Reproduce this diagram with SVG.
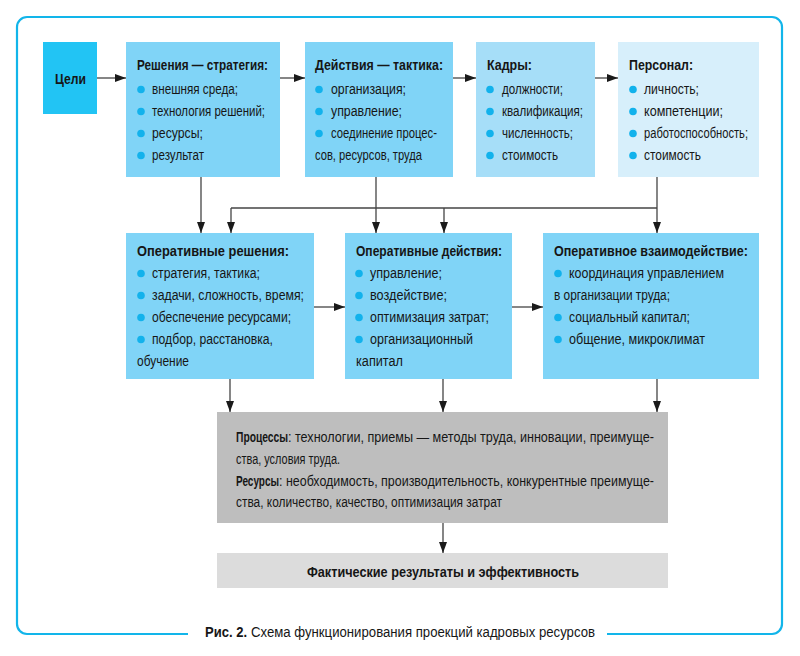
<svg xmlns="http://www.w3.org/2000/svg" width="800" height="656" viewBox="0 0 800 656">
<defs>
<style>
.t{font-family:"Liberation Sans",Arial,sans-serif;font-size:15.5px;fill:#161616}
.b{font-weight:bold}
.dot{fill:#12b2ec}
.ln{stroke:#444;stroke-width:1.3;fill:none}
.ar{stroke:#444;stroke-width:1.3;fill:none;marker-end:url(#ah)}
.main{fill:#80d4f7}
</style>
<marker id="ah" markerWidth="11" markerHeight="8" refX="11" refY="4" orient="auto" markerUnits="userSpaceOnUse">
<path d="M0,0 L11,4 L0,8 Z" fill="#1a1a1a"/>
</marker>
</defs>
<rect width="800" height="656" fill="#fff"/>
<path d="M188,634 H27 A10,10 0 0 1 17,624 V27 A10,10 0 0 1 27,17 H772 A10,10 0 0 1 782,27 V624 A10,10 0 0 1 772,634 H607" fill="none" stroke="#12b5ea" stroke-width="2.2"/>

<g id="goals">
<rect x="43" y="42" width="54" height="72" fill="#22c4f4"/>
<text class="t b" x="55" y="84" textLength="31" lengthAdjust="spacingAndGlyphs">Цели</text>
</g>

<g id="decisions">
<rect class="main" x="126" y="42" width="154" height="135"/>
<text class="t b" x="137" y="70" textLength="131" lengthAdjust="spacingAndGlyphs">Решения — стратегия:</text>
<circle class="dot" cx="141" cy="89.5" r="3.8"/><text class="t" x="152" y="94" textLength="86" lengthAdjust="spacingAndGlyphs">внешняя среда;</text>
<circle class="dot" cx="141" cy="111.5" r="3.8"/><text class="t" x="152" y="116" textLength="113" lengthAdjust="spacingAndGlyphs">технология решений;</text>
<circle class="dot" cx="141" cy="133.5" r="3.8"/><text class="t" x="152" y="138" textLength="51" lengthAdjust="spacingAndGlyphs">ресурсы;</text>
<circle class="dot" cx="141" cy="155.5" r="3.8"/><text class="t" x="152" y="160" textLength="52" lengthAdjust="spacingAndGlyphs">результат</text>
</g>

<g id="actions">
<rect class="main" x="305" y="42" width="148" height="135"/>
<text class="t b" x="315" y="70" textLength="128" lengthAdjust="spacingAndGlyphs">Действия — тактика:</text>
<circle class="dot" cx="319" cy="89.5" r="3.8"/><text class="t" x="331" y="94" textLength="75" lengthAdjust="spacingAndGlyphs">организация;</text>
<circle class="dot" cx="319" cy="111.5" r="3.8"/><text class="t" x="331" y="116" textLength="71" lengthAdjust="spacingAndGlyphs">управление;</text>
<circle class="dot" cx="319" cy="133.5" r="3.8"/><text class="t" x="331" y="138" textLength="106" lengthAdjust="spacingAndGlyphs">соединение процес-</text>
<text class="t" x="315" y="160" textLength="107" lengthAdjust="spacingAndGlyphs">сов, ресурсов, труда</text>
</g>

<g id="cadres">
<rect x="476" y="42" width="119" height="135" fill="#a6def8"/>
<text class="t b" x="487" y="70" textLength="45" lengthAdjust="spacingAndGlyphs">Кадры:</text>
<circle class="dot" cx="490" cy="89.5" r="3.8"/><text class="t" x="502" y="94" textLength="61" lengthAdjust="spacingAndGlyphs">должности;</text>
<circle class="dot" cx="490" cy="111.5" r="3.8"/><text class="t" x="502" y="116" textLength="81" lengthAdjust="spacingAndGlyphs">квалификация;</text>
<circle class="dot" cx="490" cy="133.5" r="3.8"/><text class="t" x="502" y="138" textLength="71" lengthAdjust="spacingAndGlyphs">численность;</text>
<circle class="dot" cx="490" cy="155.5" r="3.8"/><text class="t" x="502" y="160" textLength="56" lengthAdjust="spacingAndGlyphs">стоимость</text>
</g>

<g id="personnel">
<rect x="618" y="42" width="141" height="135" fill="#d7effb"/>
<text class="t b" x="629" y="70" textLength="64" lengthAdjust="spacingAndGlyphs">Персонал:</text>
<circle class="dot" cx="633" cy="89.5" r="3.8"/><text class="t" x="644" y="94" textLength="55" lengthAdjust="spacingAndGlyphs">личность;</text>
<circle class="dot" cx="633" cy="111.5" r="3.8"/><text class="t" x="644" y="116" textLength="79" lengthAdjust="spacingAndGlyphs">компетенции;</text>
<circle class="dot" cx="633" cy="133.5" r="3.8"/><text class="t" x="644" y="138" textLength="104" lengthAdjust="spacingAndGlyphs">работоспособность;</text>
<circle class="dot" cx="633" cy="155.5" r="3.8"/><text class="t" x="644" y="160" textLength="57" lengthAdjust="spacingAndGlyphs">стоимость</text>
</g>

<g id="op-decisions">
<rect class="main" x="126" y="233" width="188" height="146"/>
<text class="t b" x="137" y="256" textLength="152" lengthAdjust="spacingAndGlyphs">Оперативные решения:</text>
<circle class="dot" cx="141" cy="273.5" r="3.8"/><text class="t" x="152" y="278" textLength="108" lengthAdjust="spacingAndGlyphs">стратегия, тактика;</text>
<circle class="dot" cx="141" cy="295.5" r="3.8"/><text class="t" x="152" y="300" textLength="152" lengthAdjust="spacingAndGlyphs">задачи, сложность, время;</text>
<circle class="dot" cx="141" cy="317.5" r="3.8"/><text class="t" x="152" y="322" textLength="139" lengthAdjust="spacingAndGlyphs">обеспечение ресурсами;</text>
<circle class="dot" cx="141" cy="339.5" r="3.8"/><text class="t" x="152" y="344" textLength="121" lengthAdjust="spacingAndGlyphs">подбор, расстановка,</text>
<text class="t" x="137" y="366" textLength="52" lengthAdjust="spacingAndGlyphs">обучение</text>
</g>

<g id="op-actions">
<rect class="main" x="345" y="233" width="167" height="146"/>
<text class="t b" x="356" y="256" textLength="146" lengthAdjust="spacingAndGlyphs">Оперативные действия:</text>
<circle class="dot" cx="359" cy="273.5" r="3.8"/><text class="t" x="370" y="278" textLength="72" lengthAdjust="spacingAndGlyphs">управление;</text>
<circle class="dot" cx="359" cy="295.5" r="3.8"/><text class="t" x="370" y="300" textLength="77" lengthAdjust="spacingAndGlyphs">воздействие;</text>
<circle class="dot" cx="359" cy="317.5" r="3.8"/><text class="t" x="370" y="322" textLength="119" lengthAdjust="spacingAndGlyphs">оптимизация затрат;</text>
<circle class="dot" cx="359" cy="339.5" r="3.8"/><text class="t" x="370" y="344" textLength="103" lengthAdjust="spacingAndGlyphs">организационный</text>
<text class="t" x="356" y="366" textLength="47" lengthAdjust="spacingAndGlyphs">капитал</text>
</g>

<g id="op-interaction">
<rect class="main" x="543" y="233" width="216" height="146"/>
<text class="t b" x="554" y="256" textLength="194" lengthAdjust="spacingAndGlyphs">Оперативное взаимодействие:</text>
<circle class="dot" cx="558" cy="273.5" r="3.8"/><text class="t" x="569" y="278" textLength="155" lengthAdjust="spacingAndGlyphs">координация управлением</text>
<text class="t" x="554" y="300" textLength="116" lengthAdjust="spacingAndGlyphs">в организации труда;</text>
<circle class="dot" cx="558" cy="317.5" r="3.8"/><text class="t" x="569" y="322" textLength="121" lengthAdjust="spacingAndGlyphs">социальный капитал;</text>
<circle class="dot" cx="558" cy="339.5" r="3.8"/><text class="t" x="569" y="344" textLength="136" lengthAdjust="spacingAndGlyphs">общение, микроклимат</text>
</g>

<g id="processes">
<rect x="217" y="412" width="451" height="111" fill="#bebebe"/>
<text class="t b" transform="translate(236,442) scale(0.6,1)" x="0" y="0" textLength="86.7" lengthAdjust="spacingAndGlyphs">Процессы</text>
<text class="t" x="288" y="442" textLength="366" lengthAdjust="spacingAndGlyphs">: технологии, приемы — методы труда, инновации, преимуще-</text>
<text class="t" x="236" y="464" textLength="104" lengthAdjust="spacingAndGlyphs">ства, условия труда.</text>
<text class="t b" transform="translate(236,486) scale(0.6,1)" x="0" y="0" textLength="71.7" lengthAdjust="spacingAndGlyphs">Ресурсы</text>
<text class="t" x="279" y="486" textLength="375" lengthAdjust="spacingAndGlyphs">: необходимость, производительность, конкурентные преимуще-</text>
<text class="t" x="236" y="507" textLength="266" lengthAdjust="spacingAndGlyphs">ства, количество, качество, оптимизация затрат</text>
</g>

<g id="results">
<rect x="217" y="553" width="451" height="35" fill="#dcdcdc"/>
<text class="t b" x="307" y="577" textLength="272" lengthAdjust="spacingAndGlyphs">Фактические результаты и эффективность</text>
</g>

<g id="connectors">
<path class="ar" d="M97,78 H126"/>
<path class="ar" d="M280,78 H305"/>
<path class="ar" d="M453,78 H476"/>
<path class="ar" d="M595,78 H618"/>
<path class="ar" d="M201,177 V233"/>
<path class="ar" d="M376,177 V233"/>
<path class="ar" d="M657,177 V233"/>
<path class="ln" d="M231,208 H657"/>
<path class="ar" d="M231,208 V233"/>
<path class="ar" d="M444,208 V233"/>
<path class="ar" d="M314,307 H345"/>
<path class="ar" d="M512,307 H543"/>
<path class="ar" d="M230,379 V412"/>
<path class="ar" d="M443,379 V412"/>
<path class="ar" d="M657,379 V412"/>
<path class="ar" d="M443,523 V553"/>
</g>

<text class="t b" x="205" y="637" textLength="42" lengthAdjust="spacingAndGlyphs">Рис. 2.</text>
<text class="t" x="251" y="637" textLength="344" lengthAdjust="spacingAndGlyphs">Схема функционирования проекций кадровых ресурсов</text>
</svg>
